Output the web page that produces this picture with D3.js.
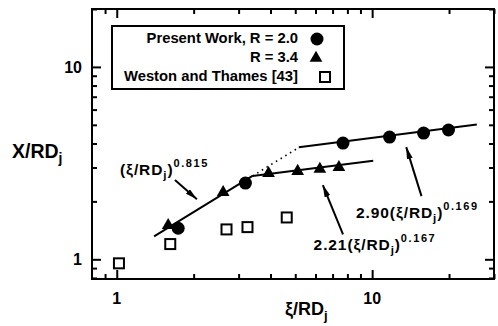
<!DOCTYPE html>
<html>
<head>
<meta charset="utf-8">
<script src="https://cdn.jsdelivr.net/npm/d3@7"></script>
<style>
  body { margin: 0; background: #fff; }
  text { font-family: "Liberation Sans", Arial, sans-serif; fill: #000; }
</style>
</head>
<body>
<svg id="chart" width="498" height="326"></svg>
<script>
// data
var circleX = [1.74, 3.19, 7.69, 11.7, 15.9, 19.9];
var circleY = [1.45, 2.49, 4.02, 4.32, 4.53, 4.70];
var triX = [1.59, 2.61, 3.93, 5.11, 6.24, 7.41];
var triY = [1.50, 2.23, 2.80, 2.87, 2.94, 3.01];
var squareX = [1.02, 1.62, 2.69, 3.25, 4.63];
var squareY = [0.953, 1.20, 1.43, 1.47, 1.65];

// power-law fits  y = c * x^e  over [from, to]
var fitCoef = [1.0, 2.21, 2.90];
var fitExp = [0.815, 0.167, 0.169];
var fitFrom = [1.40, 3.40, 5.16];
var fitTo = [3.40, 10.1, 25.7];
var fitLabels = ["0.815", "0.167", "0.169"];

var xMajor = [1, 10];
var xMinor = [0.9, 2, 3, 4, 5, 6, 7, 8, 9, 20, 30];
var yMajor = [1, 10];
var yMinor = [0.8, 0.9, 2, 3, 4, 5, 6, 7, 8, 9, 20];

// set the dimensions and margins of the graph
var margin = { top: 9, right: 4, bottom: 47, left: 92 },
  width = 498 - margin.left - margin.right,
  height = 326 - margin.top - margin.bottom;

var x = d3.scaleLog().domain([0.8, 30]).range([0, width]);
var y = d3.scaleLog().domain([0.79, 20]).range([height, 0]);

var svg = d3.select("#chart")
  .append("g")
  .attr("transform", "translate(" + margin.left + "," + margin.top + ")");

// ticks on all four sides, pointing inwards
function tickAxis(axisFn, scale, vals, size, tr) {
  var g = svg.append("g")
    .attr("transform", tr)
    .call(axisFn(scale).tickValues(vals).tickSize(-size).tickFormat(""));
  g.select(".domain").remove();
  g.selectAll("line").attr("stroke", "#000").attr("stroke-width", 2);
  return g;
}
tickAxis(d3.axisBottom, x, xMajor, 9, "translate(0," + height + ")");
tickAxis(d3.axisBottom, x, xMinor, 5, "translate(0," + height + ")");
tickAxis(d3.axisTop, x, xMajor, 9, "translate(0,0)");
tickAxis(d3.axisTop, x, xMinor, 5, "translate(0,0)");
tickAxis(d3.axisLeft, y, yMajor, 9, "translate(0,0)");
tickAxis(d3.axisLeft, y, yMinor, 5, "translate(0,0)");
tickAxis(d3.axisRight, y, yMajor, 9, "translate(" + width + ",0)");
tickAxis(d3.axisRight, y, yMinor, 5, "translate(" + width + ",0)");

svg.append("rect")
  .attr("width", width).attr("height", height)
  .attr("fill", "none").attr("stroke", "#000").attr("stroke-width", 2);

// tick labels
svg.selectAll(".xlab").data(xMajor).enter().append("text")
  .attr("x", function (d) { return x(d); })
  .attr("y", height + 25)
  .attr("text-anchor", "middle")
  .attr("font-size", 16).attr("font-weight", "bold")
  .text(function (d) { return d; });
svg.selectAll(".ylab").data(yMajor).enter().append("text")
  .attr("x", -10)
  .attr("y", function (d) { return y(d) + 6; })
  .attr("text-anchor", "end")
  .attr("font-size", 16).attr("font-weight", "bold")
  .text(function (d) { return d; });

// axis titles
var yt = svg.append("text").attr("x", -80).attr("y", 158 - margin.top)
  .attr("font-size", 19.5).attr("font-weight", "bold");
yt.append("tspan").text("X/RD");
yt.append("tspan").attr("font-size", 14).attr("dy", 5).text("j");

var xt = svg.append("text").attr("x", 285 - margin.left).attr("y", 315 - margin.top)
  .attr("font-size", 18).attr("font-weight", "bold");
xt.append("tspan").text("ξ/RD");
xt.append("tspan").attr("font-size", 13).attr("dy", 5).text("j");

// fit lines
var line = d3.line()
  .x(function (d) { return x(d[0]); })
  .y(function (d) { return y(d[1]); });
fitCoef.forEach(function (c, i) {
  var pts = [fitFrom[i], fitTo[i]].map(function (v) { return [v, c * Math.pow(v, fitExp[i])]; });
  svg.append("path").attr("d", line(pts))
    .attr("fill", "none").attr("stroke", "#000").attr("stroke-width", 2);
});
// dotted continuation of the first fit up to the third fit
var dotPts = [fitTo[0], fitFrom[2]].map(function (v) { return [v, fitCoef[0] * Math.pow(v, fitExp[0])]; });
svg.append("path").attr("d", line(dotPts))
  .attr("fill", "none").attr("stroke", "#000").attr("stroke-width", 1.6)
  .attr("stroke-dasharray", "1.5,4");

// markers
var tri = d3.symbol().type(d3.symbolTriangle).size(70);

svg.selectAll(".sq").data(squareX).enter().append("rect")
  .attr("x", function (d) { return x(d) - 5; })
  .attr("y", function (d, i) { return y(squareY[i]) - 5; })
  .attr("width", 10).attr("height", 10)
  .attr("fill", "#fff").attr("stroke", "#000").attr("stroke-width", 2);

svg.selectAll(".tri").data(triX).enter().append("path")
  .attr("d", tri)
  .attr("transform", function (d, i) { return "translate(" + x(d) + "," + y(triY[i]) + ")"; })
  .attr("fill", "#000");

svg.selectAll(".circ").data(circleX).enter().append("circle")
  .attr("cx", function (d) { return x(d); })
  .attr("cy", function (d, i) { return y(circleY[i]); })
  .attr("r", 6.5).attr("fill", "#000");

// annotations (placed in data space)
var annoText = [[1.03, 2.74, ""], [5.90, 1.114, "2.21"], [8.65, 1.635, "2.90"]];
var annoExp = [fitLabels[0], fitLabels[1], fitLabels[2]];
annoText.forEach(function (a, i) {
  var t = svg.append("text").attr("x", x(a[0])).attr("y", y(a[1]))
    .attr("font-size", 15.5).attr("font-weight", "bold")
    .attr("letter-spacing", 0.9);
  t.append("tspan").text(a[2] + "(ξ/RD");
  t.append("tspan").attr("font-size", 11.5).attr("dy", 4).text("j");
  t.append("tspan").attr("dy", -4).text(")");
  t.append("tspan").attr("font-size", 11)
    .attr("letter-spacing", 1.6).attr("dy", -8).text(annoExp[i]);
});

svg.append("defs").append("marker")
  .attr("id", "arrow").attr("viewBox", "0 0 12 6")
  .attr("refX", 12).attr("refY", 3)
  .attr("markerWidth", 12).attr("markerHeight", 6)
  .attr("markerUnits", "userSpaceOnUse")
  .attr("orient", "auto")
  .append("path").attr("d", "M0,0L12,3L0,6Z").attr("fill", "#000");

var arrowFrom = [[1.69, 2.58], [7.69, 1.349], [15.6, 2.13]];
var arrowTo = [[2.06, 2.05], [6.41, 2.43], [13.6, 3.83]];
arrowFrom.forEach(function (a, i) {
  svg.append("line")
    .attr("x1", x(a[0])).attr("y1", y(a[1]))
    .attr("x2", x(arrowTo[i][0])).attr("y2", y(arrowTo[i][1]))
    .attr("stroke", "#000").attr("stroke-width", 2)
    .attr("marker-end", "url(#arrow)");
});

// legend
var lg = d3.select("#chart").append("g");
lg.append("rect").attr("x", 112).attr("y", 26).attr("width", 232).attr("height", 63)
  .attr("fill", "#fff").attr("stroke", "#000").attr("stroke-width", 2);
var legLabels = ["Present Work, R = 2.0", "R = 3.4", "Weston and Thames [43]"];
lg.selectAll(".lt").data(legLabels).enter().append("text")
  .attr("x", 298).attr("y", function (d, i) { return 43 + i * 19; })
  .attr("text-anchor", "end")
  .attr("font-size", 14.8).attr("font-weight", "bold")
  .text(function (d) { return d; });
lg.append("circle").attr("cx", 317).attr("cy", 39).attr("r", 6.5).attr("fill", "#000");
lg.append("path").attr("d", tri).attr("transform", "translate(316,58)").attr("fill", "#000");
lg.append("rect").attr("x", 320).attr("y", 72).attr("width", 10).attr("height", 10)
  .attr("fill", "#fff").attr("stroke", "#000").attr("stroke-width", 2);
</script>
</body>
</html>
